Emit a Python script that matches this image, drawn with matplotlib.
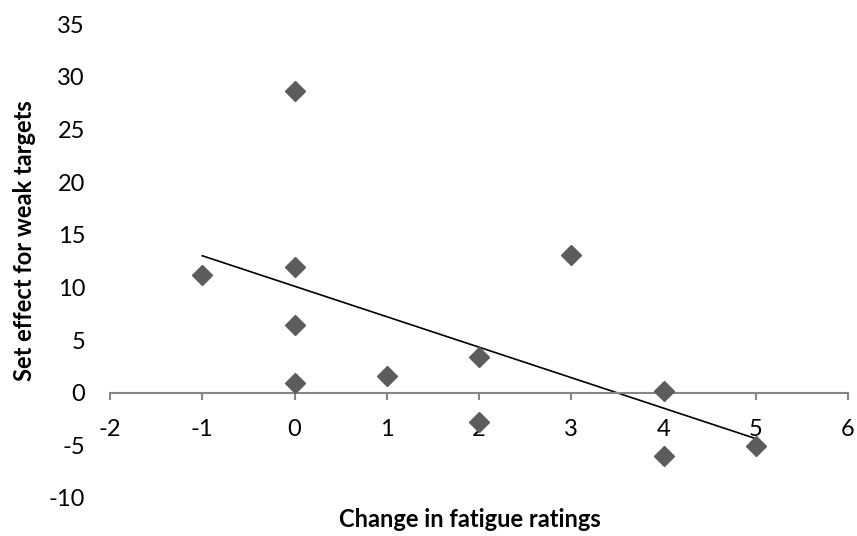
import numpy as np
import matplotlib.pyplot as plt

plt.rcParams['font.family'] = ['Lato', 'DejaVu Sans']
plt.rcParams['axes.unicode_minus'] = False

# change in fatigue vs. set effect (weak targets)
fatigue_change = [-1, 0, 0, 0, 0, 1, 2, 2, 3, 4, 4, 5]
set_effect = [11.2, 28.6, 11.9, 6.4, 0.9, 1.6, 3.4, -2.8, 13.1, 0.2, -6.0, -5.1]

x_ticks = [-2, -1, 0, 1, 2, 3, 4, 5, 6]
y_ticks = [-10, -5, 0, 5, 10, 15, 20, 25, 30, 35]

fig = plt.figure(figsize=(8.57, 5.36), dpi=100)
ax = fig.add_axes([0.1284, 0.0709, 0.8611, 0.8843])

ax.plot(fatigue_change, set_effect, linestyle='none', marker='D',
        markersize=10, color='#5c5c5c', zorder=3)

# linear trendline over the data range
slope, intercept = np.polyfit(fatigue_change, set_effect, 1)
xs = np.array([min(fatigue_change), max(fatigue_change)])
ax.plot(xs, slope * xs + intercept, color='black', linewidth=1.2, zorder=2)

ax.set_xlim(-2, 6)
ax.set_ylim(-10, 35)
ax.set_xticks(x_ticks)
ax.set_yticks(y_ticks)

for side in ['left', 'top', 'right']:
    ax.spines[side].set_visible(False)
ax.spines['bottom'].set_position(('data', 0))
ax.spines['bottom'].set_color('#868686')
ax.spines['bottom'].set_linewidth(1.5)

ax.tick_params(axis='x', direction='out', length=5, width=1.5,
               color='#868686', pad=14, labelsize=17)
ax.tick_params(axis='y', length=0, pad=18, labelsize=17)

fig.text(0.548, 0.03, 'Change in fatigue ratings', ha='center', va='center',
         fontsize=17, fontweight='bold')
fig.text(0.029, 0.552, 'Set effect for weak targets', ha='center', va='center',
         rotation=90, fontsize=17, fontweight='bold')

fig.savefig('out.png', dpi=100)
